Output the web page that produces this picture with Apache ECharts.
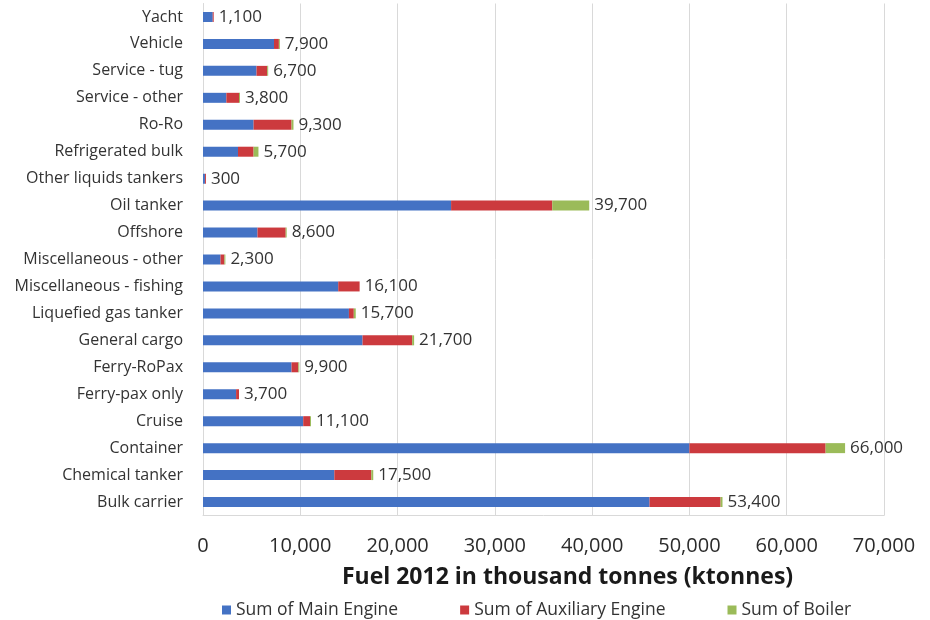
<!DOCTYPE html>
<html>
<head>
<meta charset="utf-8">
<title>Fuel 2012 by ship type</title>
<script src="https://cdn.jsdelivr.net/npm/echarts@6/dist/echarts.min.js"></script>
<style>
  html, body { margin: 0; padding: 0; background: #ffffff; }
  #chart { width: 930px; height: 620px; }
</style>
</head>
<body>
<div id="chart"></div>
<script>
// Ship types, listed bottom to top as they appear on the category axis
const shipTypes = [
  'Bulk carrier', 'Chemical tanker', 'Container', 'Cruise', 'Ferry-pax only',
  'Ferry-RoPax', 'General cargo', 'Liquefied gas tanker', 'Miscellaneous - fishing',
  'Miscellaneous - other', 'Offshore', 'Oil tanker', 'Other liquids tankers',
  'Refrigerated bulk', 'Ro-Ro', 'Service - other', 'Service - tug', 'Vehicle', 'Yacht'
];

// Fuel consumption 2012, thousand tonnes (ktonnes)
const mainEngine = [45900, 13500, 50000, 10300, 3400, 9100, 16400, 15000, 13900, 1800, 5600, 25500, 200, 3600, 5200, 2400, 5500, 7300, 1000];
const auxEngine  = [ 7300,  3800, 14000,   700,  300,  700,  5100,   500,  2200,  400, 2900, 10400, 100, 1600, 3900, 1300, 1100,  500,  100];
const boiler     = [  200,   200,  2000,   100,    0,  100,   200,   200,     0,  100,  100,  3800,   0,  500,  200,  100,  100,  100,    0];

const xTicks = { min: 0, max: 70000, interval: 10000 };

const seriesNames = ['Sum of Main Engine', 'Sum of Auxiliary Engine', 'Sum of Boiler'];
const colors = ['#4472c4', '#cc3a3e', '#9bbb59'];

// Totals shown at the end of each stacked bar
const totals = shipTypes.map((_, i) => mainEngine[i] + auxEngine[i] + boiler[i]);
const fmt = v => v.toLocaleString('en-US');

const FONT = '"Open Sans", "Noto Sans", sans-serif';

const chart = echarts.init(document.getElementById('chart'), null, { renderer: 'canvas' });

const barBase = {
  type: 'bar',
  stack: 'fuel',
  barWidth: 10,
  emphasis: { disabled: true }
};

chart.setOption({
  animation: false,
  backgroundColor: '#ffffff',
  color: colors,
  grid: {
    left: 203,
    right: 46,
    top: 3.5,
    bottom: 104.5,
    outerBoundsMode: 'none'
  },
  xAxis: {
    type: 'value',
    min: xTicks.min,
    max: xTicks.max,
    interval: xTicks.interval,
    name: 'Fuel 2012 in thousand tonnes (ktonnes)',
    nameLocation: 'middle',
    nameGap: 50,
    nameTextStyle: {
      fontFamily: FONT,
      fontWeight: 'bold',
      fontSize: 23,
      color: '#1a1a1a',
      padding: [0, 0, 0, 48]
    },
    axisLine: { show: true, lineStyle: { color: '#d9d9d9', width: 1 } },
    axisTick: { show: false },
    axisLabel: {
      margin: 21,
      fontFamily: FONT,
      fontSize: 20,
      color: '#2b2b2b',
      formatter: v => fmt(v)
    },
    splitLine: { show: true, lineStyle: { color: '#d9d9d9', width: 1 } }
  },
  yAxis: {
    type: 'category',
    data: shipTypes,
    axisLine: { show: true, lineStyle: { color: '#d9d9d9', width: 1 } },
    axisTick: { show: false },
    axisLabel: {
      margin: 20,
      fontFamily: FONT,
      fontSize: 16,
      color: '#333333'
    },
    splitLine: { show: false }
  },
  legend: {
    data: seriesNames,
    top: 596,
    left: 217,
    itemWidth: 9,
    itemHeight: 9,
    itemGap: 62,
    icon: 'rect',
    textStyle: { fontFamily: FONT, fontSize: 17.5, color: '#333333' }
  },
  series: [
    Object.assign({}, barBase, {
      name: seriesNames[0],
      data: mainEngine
    }),
    Object.assign({}, barBase, {
      name: seriesNames[1],
      data: auxEngine
    }),
    Object.assign({}, barBase, {
      name: seriesNames[2],
      data: boiler,
      label: {
        show: true,
        position: 'right',
        distance: 5,
        fontFamily: FONT,
        fontSize: 17,
        color: '#333333',
        formatter: p => fmt(totals[p.dataIndex])
      }
    })
  ]
});
</script>
</body>
</html>
